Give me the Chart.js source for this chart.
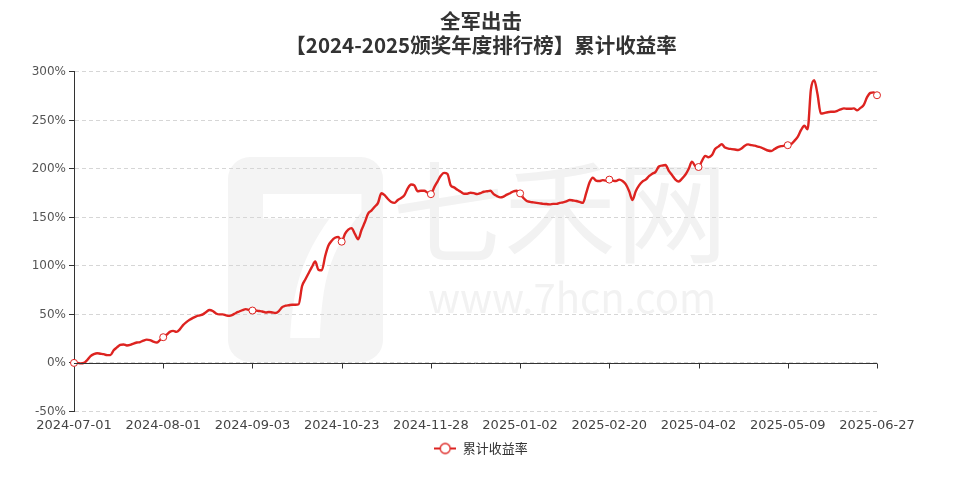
<!DOCTYPE html>
<html>
<head>
<meta charset="utf-8">
<script src="https://cdn.jsdelivr.net/npm/chart.js@4/dist/chart.umd.min.js"></script>
<style>
  html, body { margin: 0; padding: 0; background: #fff; }
  #wrap { width: 962px; height: 483px; }
</style>
</head>
<body>
<div id="wrap"><canvas id="chart" width="962" height="483"></canvas></div>
<script>
// cumulative return (%), one value per trading day
const returns = [
  0, 0, -0.5, 0, 3, 7, 9, 10, 9.5, 9, 8, 8, 13, 16, 18.5, 19, 18, 18.5, 20, 21,
  21.5, 23, 24, 23.5, 22, 21, 23.5, 26.5, 29, 32, 33, 32, 34.5, 39, 42, 44.5, 46.5, 48, 49, 50,
  52.5, 54.5, 53.5, 51, 50, 50, 49, 48.5, 49.5, 51.5, 53, 54.5, 55.5, 54.5, 54, 54, 53.5, 53, 52, 52.5,
  52, 51.5, 53.5, 57.5, 59, 59.5, 60, 60, 60.5, 79, 86, 92.5, 99, 104.5, 96, 95.5, 110, 121, 126, 129,
  130, 125, 133, 137.5, 139, 133, 127.5, 137, 145, 154, 157, 161, 165, 175, 173, 169, 166, 165, 168, 170,
  173, 180, 184, 183, 177, 177.5, 177.5, 175.5, 174, 181, 187, 193, 196, 195, 183, 181, 178.5, 176.5, 174.5, 174.5,
  175.5, 175, 174, 175, 176.5, 177, 177.5, 174, 172, 170.7, 171.5, 173.5, 175, 177, 177.5, 174.8, 170, 167, 166, 165.5,
  165, 164.5, 164, 163.8, 163.5, 164, 164, 165, 165.5, 166.5, 168, 167.5, 167, 166, 165, 175, 186, 191, 188, 187.5,
  188.5, 188, 189, 188, 187.5, 189, 187.5, 184, 177, 168, 177, 183, 187, 189, 192.5, 195, 197, 202.5, 203.5, 204,
  198, 193.5, 189, 187, 190, 194, 200, 207.5, 203, 202, 208, 213.5, 212, 214, 220.5, 223, 225.5, 222, 221, 220.5,
  220, 219.5, 221, 224, 225.3, 224.5, 224, 223, 222, 220.5, 219, 218.5, 220.5, 222.5, 223.5, 224, 224.5, 225.5, 229, 233,
  240, 244.5, 241, 282, 291.5, 277, 257, 257.5, 258.5, 259, 259, 260, 261.5, 262.5, 262, 262, 262.5, 260.5, 263, 266,
  274, 278.5, 279, 276
];
const tickLabels = [
  "2024-07-01", "2024-08-01", "2024-09-03", "2024-10-23", "2024-11-28",
  "2025-01-02", "2025-02-20", "2025-04-02", "2025-05-09", "2025-06-27"
];
const tickEvery = 27;
const seriesName = "累计收益率";
const titleLines = ["全军出击", "【2024-2025颁奖年度排行榜】累计收益率"];

const RED = "#dd2320";
const FONT = '"Noto Sans CJK SC", "Noto Sans", sans-serif';
const TICK_FONT = '"DejaVu Sans", sans-serif';

// legend icon: short line with a hollow circle
const legendIcon = document.createElement("canvas");
legendIcon.width = 22;
legendIcon.height = 14;
(function () {
  const c = legendIcon.getContext("2d");
  c.strokeStyle = RED;
  c.lineWidth = 2;
  c.beginPath(); c.moveTo(0, 7); c.lineTo(22, 7); c.stroke();
  c.fillStyle = "#fff";
  c.lineWidth = 1.3;
  c.beginPath(); c.arc(11, 7, 5, 0, Math.PI * 2); c.fill(); c.stroke();
})();

const watermark = {
  id: "watermark",
  beforeDraw(chart) {
    const ctx = chart.ctx;
    ctx.save();
    ctx.fillStyle = "#f4f4f4";
    ctx.beginPath();
    ctx.roundRect(228, 157, 155, 205, 22);
    ctx.fill();
    ctx.fillStyle = "#fff";
    ctx.font = "bold 200px " + FONT;
    ctx.textAlign = "center";
    ctx.textBaseline = "middle";
    ctx.fillText("7", 312, 262);
    ctx.fillStyle = "#f2f2f2";
    ctx.font = "112px " + FONT;
    ctx.fillText("七禾网", 560, 212);
    ctx.font = "40px " + FONT;
    ctx.fillText("www.7hcn.com", 572, 298);
    ctx.restore();
  }
};

// x axis line sits on the 0% level with short ticks pointing down
const zeroAxis = {
  id: "zeroAxis",
  afterDatasetsDraw(chart) {
    const { ctx, chartArea, scales } = chart;
    const y0 = Math.round(scales.y.getPixelForValue(0)) + 0.5;
    ctx.save();
    ctx.strokeStyle = "#333";
    ctx.lineWidth = 1;
    ctx.beginPath();
    ctx.moveTo(chartArea.left, y0);
    ctx.lineTo(chartArea.right, y0);
    for (let i = tickEvery; i < returns.length; i += tickEvery) {
      const x = Math.round(scales.x.getPixelForValue(i)) + 0.5;
      ctx.moveTo(x, y0);
      ctx.lineTo(x, y0 + 5);
    }
    ctx.stroke();
    ctx.restore();
  }
};

new Chart(document.getElementById("chart"), {
  type: "line",
  data: {
    labels: returns.map((v, i) => i),
    datasets: [{
      label: seriesName,
      data: returns,
      borderColor: RED,
      backgroundColor: "#fff",
      borderWidth: 2.4,
      cubicInterpolationMode: "monotone",
      pointRadius: (c) => (c.dataIndex % tickEvery === 0 ? 3.5 : 0),
      pointBackgroundColor: "#fff",
      pointBorderColor: RED,
      pointBorderWidth: 1,
      pointStyle: "circle"
    }]
  },
  plugins: [watermark, zeroAxis],
  options: {
    responsive: false,
    animation: false,
    layout: { padding: { left: 0, right: 0, top: 0, bottom: 18 } },
    plugins: {
      title: {
        display: true,
        text: titleLines,
        color: "#333",
        font: { family: FONT, size: 20.5, weight: "bold", lineHeight: 1.17 },
        padding: { top: 9, bottom: 15 }
      },
      legend: {
        position: "bottom",
        labels: {
          usePointStyle: true,
          pointStyle: legendIcon,
          pointStyleWidth: 22,
          boxHeight: 14,
          color: "#333",
          font: { family: FONT, size: 13 },
          padding: 3
        }
      },
      tooltip: { enabled: false }
    },
    scales: {
      x: {
        type: "category",
        grid: { display: false, drawTicks: false },
        border: { display: false },
        ticks: {
          autoSkip: false,
          maxRotation: 0,
          color: "#444",
          font: { family: TICK_FONT, size: 13 },
          padding: 6,
          callback: (v, i) => (i % tickEvery === 0 ? tickLabels[i / tickEvery] : null)
        }
      },
      y: {
        min: -50,
        max: 300,
        afterFit: (s) => { s.width = 74; },
        grid: { color: "#d6d6d6", tickColor: "#333", tickLength: 5 },
        border: { display: true, color: "#333", width: 1, dash: [4, 3] },
        ticks: {
          stepSize: 50,
          color: "#555",
          padding: 3,
          font: { family: TICK_FONT, size: 12 },
          callback: (v) => v + "%"
        }
      },
      // empty right-hand gutter so title and legend centre on the page
      gutter: {
        position: "right",
        display: true,
        afterFit: (s) => { s.width = 85; },
        grid: { display: false },
        border: { display: false },
        ticks: { display: false }
      }
    }
  }
});
</script>
</body>
</html>
